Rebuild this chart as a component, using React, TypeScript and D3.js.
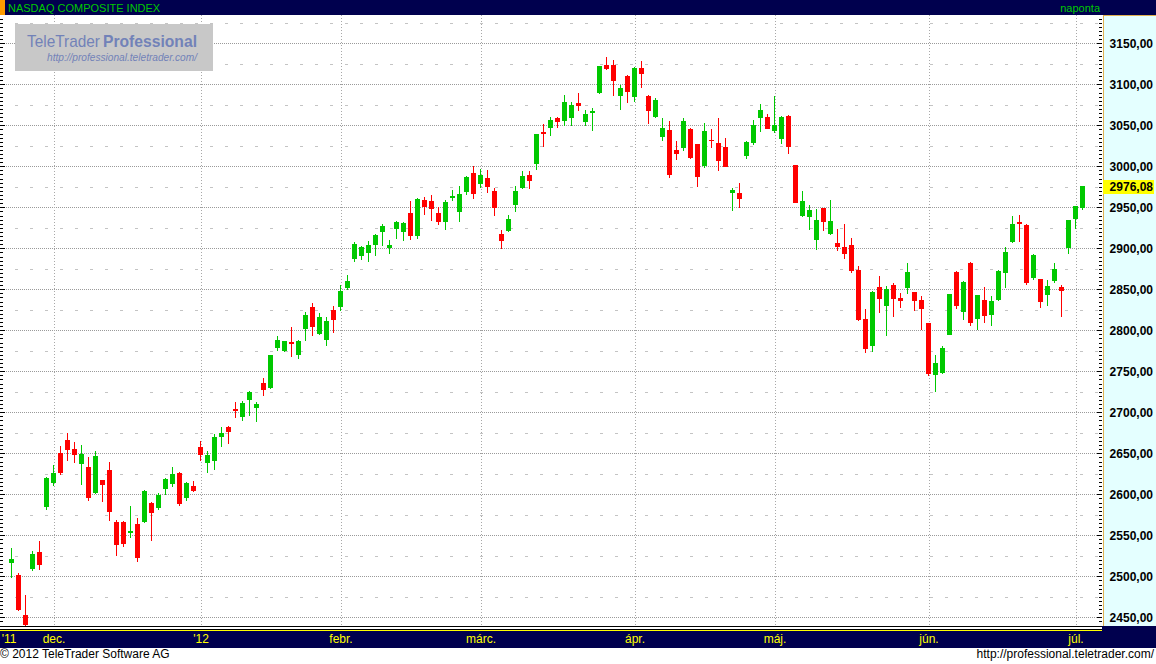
import * as d3 from "d3";

// NASDAQ Composite, daily candles, Nov 22 2011 - Jul 3 2012
const days: string[] = [
  "2011-11-22", "2011-11-23", "2011-11-25", "2011-11-28", "2011-11-29", "2011-11-30",
  "2011-12-01", "2011-12-02", "2011-12-05", "2011-12-06", "2011-12-07", "2011-12-08", "2011-12-09",
  "2011-12-12", "2011-12-13", "2011-12-14", "2011-12-15", "2011-12-16", "2011-12-19", "2011-12-20",
  "2011-12-21", "2011-12-22", "2011-12-23", "2011-12-27", "2011-12-28", "2011-12-29", "2011-12-30",
  "2012-01-03", "2012-01-04", "2012-01-05", "2012-01-06", "2012-01-09", "2012-01-10", "2012-01-11",
  "2012-01-12", "2012-01-13", "2012-01-17", "2012-01-18", "2012-01-19", "2012-01-20", "2012-01-23",
  "2012-01-24", "2012-01-25", "2012-01-26", "2012-01-27", "2012-01-30", "2012-01-31",
  "2012-02-01", "2012-02-02", "2012-02-03", "2012-02-06", "2012-02-07", "2012-02-08", "2012-02-09",
  "2012-02-10", "2012-02-13", "2012-02-14", "2012-02-15", "2012-02-16", "2012-02-17", "2012-02-21",
  "2012-02-22", "2012-02-23", "2012-02-24", "2012-02-27", "2012-02-28", "2012-02-29",
  "2012-03-01", "2012-03-02", "2012-03-05", "2012-03-06", "2012-03-07", "2012-03-08", "2012-03-09",
  "2012-03-12", "2012-03-13", "2012-03-14", "2012-03-15", "2012-03-16", "2012-03-19", "2012-03-20",
  "2012-03-21", "2012-03-22", "2012-03-23", "2012-03-26", "2012-03-27", "2012-03-28", "2012-03-29",
  "2012-03-30",
  "2012-04-02", "2012-04-03", "2012-04-04", "2012-04-05", "2012-04-09", "2012-04-10", "2012-04-11",
  "2012-04-12", "2012-04-13", "2012-04-16", "2012-04-17", "2012-04-18", "2012-04-19", "2012-04-20",
  "2012-04-23", "2012-04-24", "2012-04-25", "2012-04-26", "2012-04-27", "2012-04-30",
  "2012-05-01", "2012-05-02", "2012-05-03", "2012-05-04", "2012-05-07", "2012-05-08", "2012-05-09",
  "2012-05-10", "2012-05-11", "2012-05-14", "2012-05-15", "2012-05-16", "2012-05-17", "2012-05-18",
  "2012-05-21", "2012-05-22", "2012-05-23", "2012-05-24", "2012-05-25", "2012-05-29", "2012-05-30",
  "2012-05-31",
  "2012-06-01", "2012-06-04", "2012-06-05", "2012-06-06", "2012-06-07", "2012-06-08", "2012-06-11",
  "2012-06-12", "2012-06-13", "2012-06-14", "2012-06-15", "2012-06-18", "2012-06-19", "2012-06-20",
  "2012-06-21", "2012-06-22", "2012-06-25", "2012-06-26", "2012-06-27", "2012-06-28", "2012-06-29",
  "2012-07-02", "2012-07-03",
];

const opens: number[] = [
  2518.0, 2501.6, 2452.8, 2510.2, 2529.7, 2585.8,
  2615.0, 2650.4, 2666.3, 2655.3, 2638.2, 2633.3, 2602.8, 2617.5, 2629.7, 2566.3, 2566.3, 2554.0,
  2563.8, 2567.5, 2589.4, 2584.6, 2607.7, 2613.8, 2626.0, 2596.7, 2610.2,
  2657.7, 2639.4, 2641.9, 2671.1, 2682.1, 2704.1, 2695.5, 2716.3, 2706.5, 2735.8, 2730.9, 2779.7,
  2776.0, 2785.8, 2771.1, 2802.8, 2828.5, 2796.7, 2789.4, 2824.8,
  2829.7, 2852.8, 2888.2, 2891.9, 2895.5, 2905.3, 2921.1, 2901.6, 2924.8, 2921.1, 2943.1, 2916.3,
  2958.9, 2957.7, 2943.1, 2933.3, 2962.6, 2945.5, 2969.9, 2991.9,
  2979.7, 2985.8, 2969.9, 2917.5, 2922.4, 2954.1, 2974.8, 2989.4, 3004.1, 3041.9, 3048.0, 3058.9,
  3056.5, 3060.2, 3077.2, 3055.3, 3066.3, 3090.7, 3123.6, 3123.6, 3087.0, 3110.2,
  3085.8, 3119.9, 3085.8, 3061.4, 3037.0, 3044.3, 3019.9, 3023.6, 3045.5, 3027.2, 3001.6, 3032.1,
  3028.5, 3023.6, 2968.7, 2967.5, 3013.8, 3029.7, 3060.2, 3060.2,
  3044.3, 3034.6, 3061.4, 3001.6, 2940.7, 2939.4, 2911.4, 2949.2, 2918.7, 2906.5, 2901.6, 2904.1,
  2873.6, 2813.8, 2782.1, 2852.8, 2830.9, 2855.3, 2839.4, 2852.8, 2846.7, 2837.0,
  2808.9, 2746.7, 2749.2, 2795.5, 2871.1, 2823.6, 2882.1, 2815.0, 2837.0, 2819.9, 2838.2, 2871.1,
  2908.9, 2932.1, 2928.5, 2865.0, 2862.6, 2844.3, 2861.4, 2852.8, 2901.6,
  2937.0, 2950.5,
];

const highs: number[] = [
  2534.6, 2503.7, 2477.2, 2530.9, 2543.1, 2620.5,
  2635.8, 2658.9, 2674.8, 2663.8, 2660.2, 2645.5, 2652.8, 2618.0, 2639.4, 2568.7, 2567.5, 2585.8,
  2571.1, 2604.9, 2590.7, 2601.6, 2619.9, 2633.3, 2627.2, 2615.0, 2616.3,
  2665.0, 2652.8, 2673.6, 2682.1, 2683.3, 2712.6, 2713.8, 2726.0, 2712.6, 2741.9, 2769.5, 2793.1,
  2787.0, 2804.1, 2788.2, 2822.4, 2833.3, 2821.1, 2816.3, 2829.7,
  2855.3, 2867.5, 2907.7, 2902.8, 2908.9, 2917.5, 2929.7, 2910.2, 2933.3, 2932.1, 2957.7, 2961.4,
  2962.6, 2965.0, 2950.4, 2958.9, 2971.1, 2976.0, 2988.2, 3000.4,
  2996.7, 2995.5, 2973.6, 2922.4, 2940.7, 2976.0, 2994.3, 2994.3, 3040.0, 3051.6, 3060.2, 3060.2,
  3087.0, 3078.5, 3089.4, 3068.7, 3071.1, 3122.8, 3133.3, 3129.7, 3099.2, 3111.4,
  3121.1, 3128.5, 3087.0, 3083.3, 3058.9, 3055.3, 3030.9, 3058.9, 3046.7, 3027.8, 3052.8, 3045.5,
  3058.9, 3034.6, 2973.6, 2979.7, 3030.9, 3056.5, 3076.0, 3063.8,
  3085.8, 3061.4, 3062.6, 3002.0, 2969.9, 2952.8, 2948.0, 2949.5, 2958.9, 2923.6, 2929.7, 2912.6,
  2878.5, 2826.0, 2848.0, 2866.3, 2854.1, 2857.7, 2845.5, 2882.1, 2847.0, 2841.9,
  2809.2, 2769.9, 2780.9, 2844.6, 2872.4, 2860.2, 2883.3, 2843.1, 2852.8, 2841.9, 2873.6, 2901.6,
  2939.4, 2940.7, 2929.7, 2893.1, 2862.9, 2861.4, 2882.1, 2855.3, 2934.9,
  2951.0, 2976.3,
];

const lows: number[] = [
  2499.6, 2459.5, 2440.7, 2507.7, 2508.9, 2582.1,
  2611.4, 2624.8, 2641.9, 2639.4, 2612.6, 2593.1, 2602.0, 2591.9, 2568.7, 2526.0, 2537.0, 2548.0,
  2518.7, 2566.3, 2544.3, 2582.1, 2600.4, 2610.2, 2587.0, 2593.1, 2604.1,
  2641.9, 2627.2, 2630.9, 2658.9, 2662.6, 2694.3, 2690.7, 2696.7, 2689.4, 2721.1, 2729.7, 2776.0,
  2774.8, 2768.7, 2766.3, 2788.2, 2794.3, 2795.5, 2782.1, 2798.0,
  2824.8, 2850.4, 2884.6, 2887.0, 2884.6, 2891.9, 2904.1, 2894.3, 2912.6, 2910.2, 2911.4, 2912.6,
  2941.9, 2934.6, 2929.7, 2923.6, 2958.9, 2933.3, 2966.3, 2961.4,
  2974.8, 2968.7, 2940.7, 2900.4, 2921.1, 2945.5, 2973.6, 2973.6, 2996.7, 3024.8, 3038.2, 3048.0,
  3050.4, 3050.4, 3068.7, 3050.4, 3044.3, 3089.4, 3118.7, 3087.0, 3069.9, 3078.5,
  3079.7, 3096.7, 3052.8, 3060.2, 3032.1, 2987.0, 3008.9, 3019.9, 3010.2, 2976.0, 2999.2, 3023.6,
  2995.5, 3000.0, 2946.7, 2950.4, 3010.2, 3027.2, 3043.1, 3046.4,
  3041.9, 3028.5, 3016.3, 2956.3, 2939.4, 2923.6, 2899.2, 2922.4, 2917.5, 2898.0, 2888.2, 2871.1,
  2812.3, 2773.6, 2774.8, 2822.4, 2794.3, 2817.5, 2828.5, 2845.5, 2824.8, 2801.6,
  2745.5, 2726.0, 2748.0, 2795.0, 2827.2, 2813.8, 2806.5, 2801.6, 2810.2, 2806.5, 2837.0, 2852.8,
  2907.7, 2908.9, 2856.5, 2862.6, 2828.5, 2830.9, 2858.9, 2817.5, 2894.3,
  2924.8, 2948.0,
];

const closes: number[] = [
  2521.3, 2460.1, 2441.5, 2527.3, 2515.5, 2620.3,
  2626.2, 2626.9, 2655.8, 2649.2, 2649.6, 2596.4, 2646.9, 2612.3, 2579.3, 2539.3, 2541.0, 2555.3,
  2523.1, 2603.7, 2578.0, 2599.5, 2618.6, 2625.2, 2590.0, 2613.7, 2605.2,
  2648.7, 2648.4, 2669.9, 2674.2, 2676.6, 2702.5, 2710.8, 2724.7, 2710.7, 2728.1, 2769.7, 2788.3,
  2786.7, 2784.2, 2786.6, 2818.3, 2805.3, 2816.6, 2811.9, 2813.8,
  2848.3, 2859.7, 2905.7, 2902.0, 2904.1, 2915.9, 2927.2, 2903.9, 2931.8, 2931.4, 2915.8, 2959.9,
  2951.8, 2948.6, 2933.2, 2957.0, 2963.8, 2966.2, 2986.8, 2966.9,
  2989.0, 2976.2, 2950.5, 2910.3, 2935.7, 2970.4, 2988.3, 2983.7, 3039.9, 3040.7, 3056.4, 3055.3,
  3078.3, 3074.2, 3075.3, 3063.3, 3067.9, 3122.6, 3120.4, 3105.0, 3095.4, 3091.6,
  3119.7, 3113.6, 3068.1, 3080.5, 3047.1, 2991.2, 3016.5, 3055.6, 3011.3, 2988.4, 3042.8, 3031.5,
  3007.6, 3000.5, 2970.5, 2961.6, 3029.6, 3050.6, 3069.2, 3046.4,
  3050.4, 3059.9, 3024.3, 2956.3, 2957.8, 2946.3, 2934.7, 2933.6, 2933.8, 2902.6, 2893.8, 2874.0,
  2813.7, 2778.8, 2847.2, 2839.1, 2850.1, 2839.4, 2837.5, 2871.0, 2837.4, 2827.3,
  2747.5, 2760.0, 2778.1, 2844.7, 2831.0, 2858.4, 2809.7, 2843.1, 2818.6, 2836.3, 2872.8, 2895.3,
  2929.8, 2930.5, 2859.1, 2892.4, 2836.2, 2854.1, 2875.3, 2849.5, 2935.1,
  2951.2, 2976.08,
];

const monthStarts = [
  "2011-12-01", "2012-01-03", "2012-02-01", "2012-03-01",
  "2012-04-02", "2012-05-01", "2012-06-01", "2012-07-02",
];
const monthLabels = ["dec.", "'12", "febr.", "márc.", "ápr.", "máj.", "jún.", "júl."];
const firstYearLabel = "'11";

const priceTicks = [
  2450, 2500, 2550, 2600, 2650, 2700, 2750, 2800, 2850, 2900, 2950, 3000, 3050, 3100, 3150,
];
const halfLines = [
  2475, 2525, 2575, 2625, 2675, 2725, 2775, 2825, 2875, 2925, 2975, 3025, 3075, 3125, 3175,
];

const W = 1156;
const H = 664;
const plotTop = 15;
const plotBottom = 626;
const plotRight = 1102;
const green = "#00c800";
const red = "#ff0000";
const navy = "#00004e";
const font = "'Liberation Sans', Arial, sans-serif";

const fmt = (v: number) => v.toFixed(2).replace(".", ",");

export default function App() {
  const x = d3.scalePoint<string>().domain(days).range([11.3, 1082.3]);
  const y = d3.scaleLinear().domain([2450, 3150]).range([617.3, 43.3]);
  const minorTicks = d3.range(2440, 3185, 5);

  const last = closes[closes.length - 1];
  const lastY = Math.round(y(last));

  return (
    <svg
      width={W}
      height={H}
      style={{ position: "absolute", left: 0, top: 0, background: "#fff" }}
      fontFamily={font}
      shapeRendering="crispEdges"
    >
      <rect x={0} y={0} width={W} height={H} fill="#fff" />

      {/* header */}
      <rect x={0} y={0} width={W} height={plotTop} fill={navy} />
      <rect x={0} y={0} width={5} height={plotTop} fill="#ff9c00" />
      <text x={8} y={11.5} fontSize={11} fill={green}>NASDAQ COMPOSITE INDEX</text>
      <text x={1100} y={11.5} fontSize={11} fill={green} textAnchor="end">naponta</text>

      {/* half-step dashed lines */}
      {halfLines.map((v) => (
        <line key={"h" + v} x1={0} x2={plotRight} y1={Math.round(y(v)) + 0.5} y2={Math.round(y(v)) + 0.5}
          stroke="#c4c4c4" strokeDasharray="3 12" />
      ))}
      {/* main grid */}
      {priceTicks.map((v) => (
        <line key={"g" + v} x1={0} x2={plotRight} y1={Math.round(y(v)) + 0.5} y2={Math.round(y(v)) + 0.5}
          stroke="#9a9a9a" strokeDasharray="1 1" />
      ))}
      {monthStarts.map((d) => {
        const gx = Math.round(x(d)!) + 1.5;
        return (
          <line key={"v" + d} x1={gx} x2={gx} y1={plotTop} y2={plotBottom}
            stroke="#a8a8a8" strokeDasharray="1 2" />
        );
      })}

      {/* watermark */}
      <rect x={15} y={24} width={198} height={47} fill="#c8c8c8" />
      <text x={27} y={47} fontSize={17} fill="#7282b8" textLength={73} lengthAdjust="spacingAndGlyphs">TeleTrader</text>
      <text x={103} y={47} fontSize={17} fontWeight="bold" fill="#7282b8" textLength={94} lengthAdjust="spacingAndGlyphs">Professional</text>
      <text x={47} y={61} fontSize={11} fontStyle="italic" fill="#7282b8" textLength={150} lengthAdjust="spacingAndGlyphs">http://professional.teletrader.com/</text>

      {/* edge tick marks */}
      {minorTicks.map((v) => {
        const ty = Math.round(y(v));
        if (ty < plotTop + 1 || ty > plotBottom - 1) return null;
        const major = v % 50 === 0;
        return (
          <g key={"t" + v}>
            <rect x={0} y={ty} width={major ? 5 : 3} height={1} fill="#000" />
            <rect x={major ? plotRight - 5 : plotRight - 3} y={ty} width={major ? 5 : 3} height={1} fill="#000" />
          </g>
        );
      })}

      {/* candles */}
      {days.map((d, i) => {
        const cx = Math.round(x(d)!);
        const o = opens[i];
        const c = closes[i];
        const color = c >= o ? green : red;
        const top = Math.round(y(Math.max(o, c)));
        const bot = Math.round(y(Math.min(o, c)));
        const hy = Math.round(y(highs[i]));
        const ly = Math.round(y(lows[i]));
        return (
          <g key={d}>
            <rect x={cx} y={hy} width={1} height={Math.max(1, ly - hy + 1)} fill={color} />
            <rect x={cx - 2} y={top} width={5} height={Math.max(1, bot - top + 1)} fill={color} />
          </g>
        );
      })}

      {/* right price panel */}
      <rect x={plotRight + 1} y={plotTop} width={W - plotRight - 1} height={plotBottom - plotTop} fill="#e4ffff" />
      <rect x={plotRight + 1} y={plotTop} width={1} height={plotBottom - plotTop} fill="#e0b050" />
      <rect x={plotRight + 1} y={plotTop} width={W - plotRight - 1} height={1} fill="#e0b050" />
      {priceTicks.map((v) => (
        <text key={"l" + v} x={1153} y={Math.round(y(v)) + 5} fontSize={12} fontWeight="bold" fill="#000" textAnchor="end">
          {fmt(v)}
        </text>
      ))}
      <rect x={plotRight + 1} y={lastY - 6} width={51} height={14} fill="#ffff00" />
      <text x={1153} y={lastY + 5} fontSize={12} fontWeight="bold" fill="#000" textAnchor="end">{fmt(last)}</text>

      {/* bottom axis band */}
      <rect x={0} y={plotBottom} width={W} height={648 - plotBottom} fill={navy} />
      <rect x={0} y={plotBottom} width={plotRight} height={5} fill="#fff" />
      <rect x={0} y={plotBottom} width={plotRight} height={1} fill="#000" />
      <rect x={0} y={plotBottom + 3} width={plotRight} height={1} fill="#000" />
      <rect x={0} y={plotBottom + 4} width={plotRight} height={1} fill="#ffff00" />
      <text x={Math.round(x(days[0])!) - 2} y={643} fontSize={12} fill="#ffff00" textAnchor="middle">{firstYearLabel}</text>
      {monthStarts.map((d, i) => (
        <text key={"m" + d} x={Math.round(x(d)!) + 1} y={643} fontSize={12} fill="#ffff00" textAnchor="middle">
          {monthLabels[i]}
        </text>
      ))}

      {/* footer */}
      <text x={0} y={658} fontSize={12} fill="#000">© 2012 TeleTrader Software AG</text>
      <text x={1154} y={658} fontSize={12} fill="#000" textAnchor="end">http://professional.teletrader.com/</text>
    </svg>
  );
}
